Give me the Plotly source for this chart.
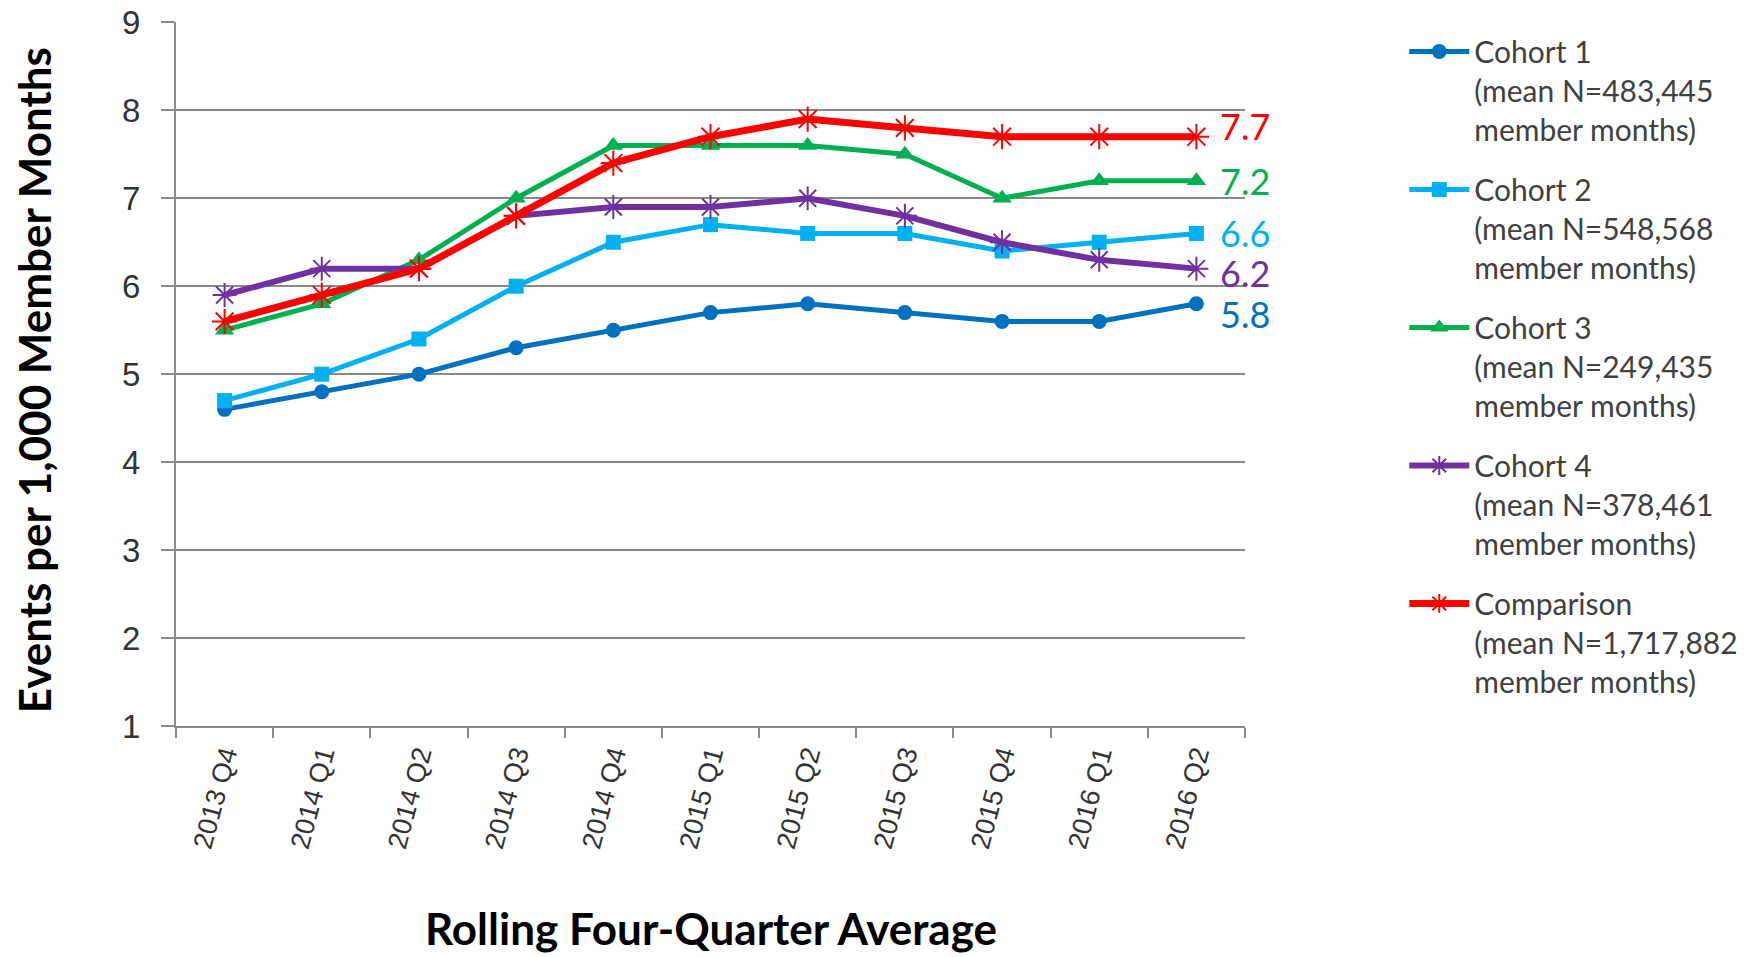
import plotly.graph_objects as go

quarters = ["2013 Q4", "2014 Q1", "2014 Q2", "2014 Q3", "2014 Q4", "2015 Q1",
            "2015 Q2", "2015 Q3", "2015 Q4", "2016 Q1", "2016 Q2"]
y_ticks = [1, 2, 3, 4, 5, 6, 7, 8, 9]

cohort1 = [4.6, 4.8, 5.0, 5.3, 5.5, 5.7, 5.8, 5.7, 5.6, 5.6, 5.8]
cohort2 = [4.7, 5.0, 5.4, 6.0, 6.5, 6.7, 6.6, 6.6, 6.4, 6.5, 6.6]
cohort3 = [5.5, 5.8, 6.3, 7.0, 7.6, 7.6, 7.6, 7.5, 7.0, 7.2, 7.2]
cohort4 = [5.9, 6.2, 6.2, 6.8, 6.9, 6.9, 7.0, 6.8, 6.5, 6.3, 6.2]
comparison = [5.6, 5.9, 6.2, 6.8, 7.4, 7.7, 7.9, 7.8, 7.7, 7.7, 7.7]

series_names = [
    "Cohort 1<br>(mean N=483,445<br>member months)",
    "Cohort 2<br>(mean N=548,568<br>member months)",
    "Cohort 3<br>(mean N=249,435<br>member months)",
    "Cohort 4<br>(mean N=378,461<br>member months)",
    "Comparison<br>(mean N=1,717,882<br>member months)",
]
series_values = [cohort1, cohort2, cohort3, cohort4, comparison]
colors = ["#0070C0", "#00B0F0", "#00B050", "#7030A0", "#FF0000"]
symbols = ["circle", "square", "triangle-up", "asterisk-open", "asterisk-open"]
marker_sizes = [15, 15, 17, 20, 21]
line_widths = [5, 5, 5, 6, 7]
label_shift = [-10, 0, 0, -4, 11]

fig = go.Figure()
for i, (name, vals) in enumerate(zip(series_names, series_values)):
    is_star = symbols[i].startswith("asterisk")
    fig.add_trace(go.Scatter(
        x=quarters, y=vals, name=name, mode="lines+markers",
        legendgroup=f"g{i}",
        line=dict(color=colors[i], width=line_widths[i]),
        marker=dict(symbol=symbols[i], size=marker_sizes[i], color=colors[i],
                    line=dict(color=colors[i], width=2 if is_star else 0)),
    ))
    last = vals[-1]
    fig.add_annotation(
        x=quarters[-1], y=last, xref="x", yref="y", text=f"{last:.1f}",
        showarrow=False, xanchor="left", yanchor="middle", xshift=22,
        yshift=label_shift[i],
        font=dict(family="Lato", size=36, color=colors[i]),
    )

fig.add_annotation(
    x=0.5, y=-0.327, xref="paper", yref="paper",
    text="<b>Rolling Four-Quarter Average</b>", showarrow=False,
    xanchor="center", yanchor="bottom",
    font=dict(family="Lato", size=44, color="#000000"),
)
fig.add_annotation(
    x=-0.1325, y=0.4915, xref="paper", yref="paper",
    text="<b>Events per 1,000 Member Months</b>", showarrow=False,
    textangle=-90, xanchor="center", yanchor="middle",
    font=dict(family="Lato", size=44, color="#000000"),
)

fig.update_layout(
    width=1740, height=949,
    margin=dict(l=168, r=503, t=14, b=231, autoexpand=False),
    plot_bgcolor="white", paper_bgcolor="white",
    showlegend=True,
    legend=dict(
        x=1.149, y=0.995, xanchor="left", yanchor="top",
        font=dict(family="Lato", size=30, color="#404040"),
        tracegroupgap=18, valign="top", itemwidth=60,
        bgcolor="rgba(0,0,0,0)",
    ),
    xaxis=dict(
        type="category", range=[-0.5, len(quarters) - 0.5], showgrid=False,
        showline=True, linecolor="#898989", linewidth=2,
        ticks="outside", tickson="boundaries", ticklen=10,
        tickcolor="#898989", tickwidth=1.5,
        tickangle=-75,
        tickfont=dict(family="Liberation Sans", size=27, color="#333333"),
    ),
    yaxis=dict(
        range=[1, 9.004], tickmode="array", tickvals=y_ticks,
        ticktext=[str(v) for v in y_ticks], ticklabeloverflow="allow",
        showgrid=True, gridcolor="#898989", gridwidth=2,
        showline=True, linecolor="#898989", linewidth=2,
        ticks="outside", ticklen=13, tickcolor="#898989", tickwidth=2,
        ticklabelstandoff=14, zeroline=False,
        tickfont=dict(family="Liberation Sans", size=33, color="#333333"),
    ),
)

fig.write_html("out.html")
